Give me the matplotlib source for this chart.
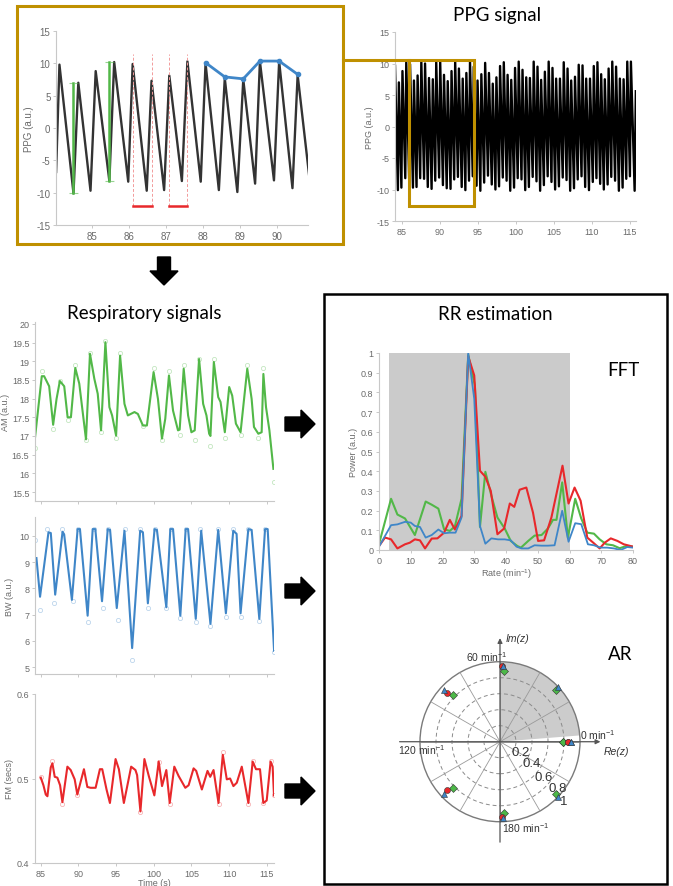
import numpy as np
import matplotlib
matplotlib.use('Agg')
import matplotlib.pyplot as plt
from matplotlib import ticker
from matplotlib.patches import Rectangle, Wedge, Circle, FancyArrow

plt.rcParams['font.family'] = ['Liberation Sans', 'DejaVu Sans']
plt.rcParams['axes.unicode_minus'] = False
plt.rcParams['mathtext.default'] = 'regular'

W, H = 673, 887
GOLD = '#BF9000'
GREEN = '#52b848'
BLUE = '#3f86c8'
RED = '#e8282b'

# ---- PPG signal (alternating trough / peak) ----
ppg_time = [84.03, 84.12, 84.50, 84.63, 84.96, 85.10, 85.47, 85.60, 85.98, 86.10,
            86.48, 86.61, 86.95, 87.09, 87.43, 87.58, 87.94, 88.07, 88.43, 88.59,
            88.93, 89.09, 89.41, 89.54, 89.92, 90.06, 90.42, 90.56,
            90.92, 91.05, 91.42, 91.55, 91.90, 92.03, 92.39, 92.52, 92.89, 93.02,
            93.37, 93.50, 93.85, 93.98, 94.34, 94.47, 94.84, 94.97, 95.34, 95.47,
            95.84, 95.97, 96.34, 96.47, 96.84, 96.97, 97.32, 97.45, 97.80, 97.93,
            98.29, 98.42, 98.79, 98.92, 99.27, 99.40, 99.77, 99.90, 100.25, 100.38,
            100.75, 100.88, 101.24, 101.37, 101.72, 101.85, 102.22, 102.35, 102.72, 102.85,
            103.20, 103.33, 103.69, 103.82, 104.19, 104.32, 104.69, 104.82, 105.17, 105.30,
            105.67, 105.80, 106.17, 106.30, 106.67, 106.80, 107.15, 107.28, 107.65, 107.78,
            108.14, 108.27, 108.64, 108.77, 109.12, 109.25, 109.62, 109.75, 110.12, 110.25,
            110.60, 110.73, 111.09, 111.22, 111.57, 111.70, 112.07, 112.20, 112.55, 112.68,
            113.05, 113.18, 113.55, 113.68, 114.04, 114.17, 114.52, 114.65, 115.00, 115.13,
            115.62, 115.78]
ppg_value = [-6.8, 9.8, -10.1, 7.0, -9.7, 8.8, -8.2, 10.2, -8.3, 9.9,
             -9.7, 7.3, -9.6, 8.1, -8.2, 10.3, -8.3, 10.0, -9.6, 7.7,
             -9.9, 7.5, -8.6, 10.3, -8.1, 10.3, -9.3, 8.2,
             -9.8, 7.2, -9.9, 8.8, -8.4, 10.3, -8.0, 9.2, -9.6, 7.6,
             -10.1, 8.5, -8.6, 10.3, -7.9, 9.5, -9.4, 7.3, -10.2, 8.3,
             -8.9, 10.1, -7.8, 8.5, -9.2, 6.8, -10.0, 7.8, -9.5, 9.6,
             -8.1, 10.2, -8.6, 8.2, -10.2, 7.4, -9.7, 9.3, -8.2, 10.3,
             -8.4, 9.0, -10.1, 7.8, -9.6, 7.7, -8.0, 10.3, -8.7, 9.5,
             -10.2, 7.4, -9.3, 8.7, -7.9, 10.3, -8.8, 9.3, -10.0, 7.6,
             -9.5, 7.6, -8.1, 10.2, -8.5, 9.2, -10.2, 7.3, -9.8, 7.9,
             -8.4, 9.8, -7.9, 9.7, -9.6, 7.6, -10.1, 7.6, -8.8, 9.6,
             -8.2, 10.2, -9.1, 8.3, -10.0, 7.5, -9.2, 9.2, -8.0, 10.3,
             -8.6, 9.5, -10.2, 7.6, -9.7, 7.5, -8.3, 10.3, -7.9, 10.3,
             -10.2, 5.6]

# annotations in the zoomed PPG panel
am_bar_t = [84.50, 85.47]
am_bar_lo = [-10.1, -8.2]
am_bar_hi = [7.0, 10.2]
fm_start = [86.10, 87.09]
fm_end = [86.61, 87.58]
bw_peak_t = [88.07, 88.59, 89.09, 89.54, 90.06, 90.56]
bw_peak_v = [10.1, 7.9, 7.6, 10.35, 10.35, 8.3]

# ---- respiratory signals ----
am_t = [84.24, 85.13, 85.44, 86.11, 86.64, 87.09, 87.53, 88.11, 88.56, 89.0,
        89.58, 90.11, 91.0, 91.53, 92.11, 92.56, 93.0, 93.58, 94.11, 94.47,
        95.0, 95.53, 96.11, 96.56, 97.44, 97.89, 98.56, 99.09, 99.98, 100.56,
        101.09, 101.53, 102.02, 102.56, 103.22, 103.44, 103.98, 104.56, 105.0, 105.44,
        106.02, 106.56, 107.0, 107.36, 107.53, 107.98, 108.56, 108.87, 109.44, 110.02,
        110.42, 110.91, 111.53, 112.42, 113.0, 113.31, 113.89, 114.33, 114.56, 114.91,
        115.36, 115.89]
am_v = [16.97, 18.6, 18.6, 18.33, 17.3, 17.99, 18.47, 18.33, 17.5, 17.5,
        18.82, 18.4, 16.91, 19.2, 18.53, 18.13, 17.15, 19.51, 17.77, 17.55,
        17.01, 19.15, 17.86, 17.55, 17.64, 17.59, 17.28, 17.28, 18.71, 17.99,
        16.93, 17.46, 18.62, 17.68, 17.15, 17.17, 18.8, 17.55, 17.1, 17.15,
        19.06, 17.86, 17.55, 17.06, 17.0, 18.98, 18.04, 17.91, 17.1, 18.31,
        18.08, 17.33, 17.1, 18.8, 17.99, 17.24, 17.06, 17.1, 18.66, 17.77,
        17.15, 16.12]
am_raw_t = [84.24, 85.13, 86.64, 87.53, 88.56, 89.58, 91.0, 91.53, 93.0, 93.58,
            95.0, 95.53, 98.56, 99.98, 101.09, 102.02, 103.44, 103.98, 105.44, 106.02,
            107.53, 107.98, 109.44, 111.53, 112.42, 113.89, 114.56, 115.98]
am_raw_v = [16.68, 18.75, 17.19, 18.48, 17.42, 18.9, 16.88, 19.22, 17.1, 19.53,
            16.94, 19.22, 17.28, 18.82, 16.88, 18.73, 17.03, 18.9, 16.88, 19.05,
            16.73, 19.05, 16.94, 17.03, 18.9, 16.94, 18.81, 15.77]

bw_t = [84.42, 84.9, 86.02, 86.33, 86.91, 87.89, 88.1, 89.13, 89.89, 90.2,
        91.22, 91.89, 92.24, 93.13, 93.89, 94.2, 95.09, 96.11, 97.13, 98.2,
        98.56, 99.22, 100.11, 100.42, 101.67, 102.2, 102.56, 103.53, 104.24, 104.56,
        105.58, 106.3, 107.53, 108.56, 109.58, 110.56, 111.0, 111.53, 112.56, 113.0,
        114.02, 114.78, 115.13, 115.98]
bw_v = [9.15, 7.68, 10.13, 10.1, 7.76, 10.15, 10.05, 7.56, 10.25, 10.25,
        6.96, 10.25, 10.25, 7.51, 10.25, 10.22, 7.25, 10.19, 5.73, 10.19,
        10.13, 7.43, 10.25, 10.22, 7.28, 10.25, 10.25, 6.96, 10.25, 10.25,
        6.84, 10.19, 6.65, 10.22, 7.05, 10.19, 10.07, 7.05, 10.25, 10.22,
        6.84, 10.25, 10.25, 5.63]
bw_raw_t = [84.24, 84.87, 85.89, 86.78, 87.8, 89.22, 89.9, 91.22, 92.1, 93.22,
            93.9, 95.22, 96.24, 97.13, 98.2, 99.22, 100.1, 101.67, 102.3, 103.53,
            104.3, 105.58, 106.1, 107.53, 108.5, 109.58, 110.5, 111.53, 112.5, 114.02,
            114.8, 115.98]
bw_raw_v = [9.85, 7.18, 10.25, 7.43, 10.25, 7.5, 10.25, 6.71, 10.25, 7.25,
            10.25, 6.8, 10.25, 5.28, 10.25, 7.25, 10.25, 7.25, 10.25, 6.87,
            10.25, 6.71, 10.25, 6.56, 10.25, 6.92, 10.25, 6.92, 10.25, 6.77,
            10.25, 5.57]

fm_t = [85.0, 85.35, 85.66, 85.88, 86.32, 86.54, 86.85, 87.2, 87.56, 87.87,
        88.53, 88.97, 89.5, 89.85, 90.73, 91.18, 91.62, 92.28, 92.85, 93.16,
        93.73, 94.18, 94.93, 95.37, 96.03, 97.0, 97.57, 97.79, 98.23, 98.76,
        99.34, 100.08, 100.66, 101.1, 101.67, 102.12, 102.73, 103.3, 104.19, 104.63,
        105.29, 105.64, 106.39, 107.14, 107.5, 107.94, 108.6, 109.17, 109.7, 110.14,
        110.58, 111.03, 111.69, 112.57, 113.14, 113.58, 114.11, 114.55, 115.0, 115.52,
        115.79, 115.97]
fm_v = [0.501, 0.492, 0.481, 0.479, 0.513, 0.518, 0.502, 0.501, 0.492, 0.472,
        0.514, 0.51, 0.499, 0.481, 0.511, 0.49, 0.489, 0.489, 0.511, 0.511,
        0.487, 0.471, 0.523, 0.511, 0.471, 0.514, 0.51, 0.504, 0.461, 0.523,
        0.503, 0.48, 0.52, 0.491, 0.51, 0.471, 0.514, 0.503, 0.489, 0.492,
        0.512, 0.509, 0.487, 0.509, 0.502, 0.51, 0.471, 0.528, 0.499, 0.5,
        0.491, 0.495, 0.514, 0.471, 0.52, 0.511, 0.511, 0.471, 0.474, 0.52,
        0.514, 0.48]
fm_raw_t = [85.0, 86.54, 87.87, 89.85, 98.23, 100.66, 102.12, 108.6, 109.17,
            112.57, 113.14, 114.55, 115.52, 115.97]
fm_raw_v = [0.502, 0.521, 0.47, 0.48, 0.46, 0.52, 0.47, 0.47, 0.531,
            0.47, 0.521, 0.471, 0.521, 0.48]

# ---- FFT spectra ----
fft_green_rate = [0, 3.8, 5.8, 8.2, 11.3, 14.7, 16.6, 18.7, 20.5, 22.3, 23.9, 26.0,
                  28.1, 30.2, 31.8, 33.5, 35.4, 37.3, 39.6, 41.5, 43.6, 44.7, 47.0,
                  49.0, 51.2, 53.2, 54.8, 55.9, 57.7, 59.5, 61.8, 63.7, 65.6, 67.7,
                  69.5, 71.6, 73.7, 75.8, 77.9, 80.0]
fft_green_power = [0.03, 0.26, 0.18, 0.16, 0.076, 0.246, 0.23, 0.21, 0.105, 0.097, 0.12, 0.26,
                   0.99, 0.835, 0.117, 0.397, 0.275, 0.165, 0.109, 0.046, 0.02, 0.012, 0.046,
                   0.073, 0.076, 0.109, 0.153, 0.153, 0.343, 0.063, 0.26, 0.16, 0.088, 0.083,
                   0.054, 0.029, 0.024, 0.009, 0.02, 0.017]
fft_blue_rate = [0, 3.8, 5.8, 8.2, 10.0, 11.3, 12.9, 14.7, 16.6, 18.7, 20.5, 22.3, 24.1,
                 26.0, 28.1, 30.0, 31.8, 33.5, 35.4, 37.5, 39.6, 41.5, 43.3, 44.9, 47.0,
                 49.0, 51.2, 53.2, 55.3, 57.7, 59.7, 61.8, 63.7, 65.8, 67.7, 69.8, 71.9,
                 74.0, 76.1, 78.2, 80.0]
fft_blue_power = [0.017, 0.126, 0.13, 0.143, 0.139, 0.122, 0.117, 0.063, 0.076, 0.104, 0.085,
                  0.088, 0.088, 0.165, 1.0, 0.767, 0.122, 0.032, 0.059, 0.054, 0.054, 0.049,
                  0.017, 0.008, 0.008, 0.024, 0.022, 0.022, 0.024, 0.199, 0.042, 0.136, 0.131,
                  0.029, 0.024, 0.012, 0.012, 0.008, 0.0, 0.015, 0.012]
fft_red_rate = [0, 1.9, 3.8, 5.8, 8.2, 9.7, 11.3, 12.9, 14.5, 16.6, 18.4, 20.5, 22.3,
                23.9, 26.0, 28.1, 30.0, 31.8, 33.5, 35.2, 37.3, 39.4, 41.2, 42.6, 44.3,
                46.4, 48.5, 50.1, 52.0, 54.3, 57.8, 59.7, 61.6, 63.5, 65.6, 67.7, 69.5,
                71.1, 73.0, 75.1, 77.1, 80.0]
fft_red_power = [0.02, 0.063, 0.054, 0.008, 0.029, 0.037, 0.054, 0.049, 0.008, 0.058, 0.059,
                 0.088, 0.153, 0.104, 0.173, 0.983, 0.886, 0.402, 0.372, 0.3, 0.08, 0.109,
                 0.236, 0.219, 0.306, 0.317, 0.19, 0.046, 0.049, 0.165, 0.428, 0.236, 0.317,
                 0.25, 0.063, 0.034, 0.008, 0.037, 0.059, 0.046, 0.029, 0.017]
rr_band = [3, 60]

# ---- AR poles (upper half plane; conjugates mirrored) ----
pole_red_angle = [0, 88.2, 137.3]
pole_red_radius = [0.846, 0.942, 0.896]
pole_blue_angle = [0, 43.6, 87.5, 136.9]
pole_blue_radius = [0.883, 0.996, 0.95, 0.952]
pole_green_angle = [0, 42.9, 86.5, 135.0]
pole_green_radius = [0.79, 0.955, 0.89, 0.825]
ar_rings = [0.2, 0.4, 0.6, 0.8]
ar_spokes = [0, 30, 60, 90, 120, 150, 180, 210, 240, 270, 300, 330]


def box(x0, y0, x1, y1):
    return [x0 / W, 1 - y1 / H, (x1 - x0) / W, (y1 - y0) / H]


def light_style(ax, size=6.5):
    for s in ['top', 'right']:
        ax.spines[s].set_visible(False)
    for s in ['left', 'bottom']:
        ax.spines[s].set_color('#c8c8c8')
        ax.spines[s].set_linewidth(0.8)
    ax.tick_params(color='#c8c8c8', labelcolor='#6a6a6a', labelsize=size,
                   length=2.5, width=0.7, pad=1.5)
    ax.patch.set_alpha(0)


fig = plt.figure(figsize=(W / 100, H / 100), dpi=100)

# zoomed PPG
ax1 = fig.add_axes(box(56, 32, 308, 226))
ax1.plot(ppg_time, ppg_value, color='#333333', lw=1.7, solid_joinstyle='round')
for t, lo, hi in zip(am_bar_t, am_bar_lo, am_bar_hi):
    ax1.plot([t, t], [lo, hi], color=GREEN, lw=1.8)
    ax1.plot([t - 0.13, t + 0.15], [lo, lo], color=GREEN, lw=0.8, ls=(0, (3, 2)), alpha=0.6)
    ax1.plot([t - 0.13, t + 0.15], [hi, hi], color=GREEN, lw=0.8, ls=(0, (3, 2)), alpha=0.6)
for a, b in zip(fm_start, fm_end):
    for t in (a, b):
        ax1.plot([t, t], [-12.1, 11.5], color='#f29a9a', lw=0.7, ls=(0, (3, 2)))
    ax1.plot([a, b], [-12.1, -12.1], color=RED, lw=1.8)
ax1.plot(bw_peak_t, bw_peak_v, color=BLUE, lw=2, marker='o', ms=3)
ax1.set_xlim(84.027, 90.84)
ax1.set_ylim(-15, 15)
ax1.set_xticks([85, 86, 87, 88, 89, 90])
ax1.set_yticks([-15, -10, -5, 0, 5, 10, 15])
ax1.set_ylabel('PPG (a.u.)', fontsize=7, color='#6a6a6a', labelpad=2)
light_style(ax1, 7)

# full PPG
ax2 = fig.add_axes(box(395, 33, 636, 222))
ax2.plot(ppg_time, ppg_value, color='black', lw=1.7)
ax2.set_xlim(84.12, 115.8)
ax2.set_ylim(-15, 15)
ax2.set_xticks([85, 90, 95, 100, 105, 110, 115])
ax2.set_yticks([-15, -10, -5, 0, 5, 10, 15])
ax2.set_ylabel('PPG (a.u.)', fontsize=6.5, color='#6a6a6a', labelpad=2)
light_style(ax2)
ax2.add_patch(Rectangle((86.0, -12.6), 8.5, 23.2, fill=False, ec=GOLD, lw=2.2,
                        clip_on=False, zorder=5))

# respiratory signals
t_lim = (84.23, 115.97)
t_ticks = [85, 90, 95, 100, 105, 110, 115]

ax3 = fig.add_axes(box(35, 323, 274, 502))
ax3.plot(am_raw_t, am_raw_v, ls='none', marker='o', ms=3, mfc='none', mec=GREEN, mew=0.6, alpha=0.35)
ax3.plot(am_t, am_v, color=GREEN, lw=1.5)
ax3.set_xlim(*t_lim)
ax3.set_ylim(15.26, 20.05)
ax3.set_yticks([15.5, 16, 16.5, 17, 17.5, 18, 18.5, 19, 19.5, 20])
ax3.yaxis.set_major_formatter(ticker.FormatStrFormatter('%g'))
ax3.set_xticks(t_ticks)
ax3.set_xticklabels([])
ax3.set_ylabel('AM (a.u.)', fontsize=6.5, color='#6a6a6a', labelpad=1)
light_style(ax3)

ax4 = fig.add_axes(box(35, 518, 274, 675))
ax4.plot(bw_raw_t, bw_raw_v, ls='none', marker='o', ms=3, mfc='none', mec=BLUE, mew=0.6, alpha=0.35)
ax4.plot(bw_t, bw_v, color=BLUE, lw=1.5)
ax4.set_xlim(*t_lim)
ax4.set_ylim(4.745, 10.71)
ax4.set_yticks([5, 6, 7, 8, 9, 10])
ax4.set_xticks(t_ticks)
ax4.set_xticklabels([])
ax4.set_ylabel('BW (a.u.)', fontsize=6.5, color='#6a6a6a', labelpad=4)
light_style(ax4)

ax5 = fig.add_axes(box(35, 695, 274, 864))
ax5.plot(fm_raw_t, fm_raw_v, ls='none', marker='o', ms=3, mfc='none', mec=RED, mew=0.6, alpha=0.35)
ax5.plot(fm_t, fm_v, color=RED, lw=1.5)
ax5.set_xlim(*t_lim)
ax5.set_ylim(0.4, 0.6)
ax5.set_yticks([0.4, 0.5, 0.6])
ax5.set_xticks(t_ticks)
ax5.set_xlabel('Time (s)', fontsize=6.5, color='#6a6a6a', labelpad=0)
ax5.set_ylabel('FM (secs)', fontsize=6.5, color='#6a6a6a', labelpad=2)
light_style(ax5)

# FFT
ax6 = fig.add_axes(box(379, 354, 633, 551))
ax6.axvspan(rr_band[0], rr_band[1], ymax=1, color='#cbcbcb', lw=0, zorder=0)
ax6.plot(fft_green_rate, fft_green_power, color=GREEN, lw=1.5)
ax6.plot(fft_red_rate, fft_red_power, color=RED, lw=1.5)
ax6.plot(fft_blue_rate, fft_blue_power, color=BLUE, lw=1.3)
ax6.set_xlim(0, 80)
ax6.set_ylim(0, 1)
ax6.set_xticks(range(0, 81, 10))
ax6.set_yticks(np.arange(0, 1.01, 0.1))
ax6.yaxis.set_major_formatter(ticker.FormatStrFormatter('%g'))
ax6.set_xlabel('Rate (min$^{-1}$)', fontsize=6.5, color='#6a6a6a', labelpad=1)
ax6.set_ylabel('Power (a.u.)', fontsize=6.5, color='#6a6a6a', labelpad=2)
light_style(ax6)

# AR pole plot
ax7 = fig.add_axes(box(396, 630, 606, 850))
ax7.set_xlim(-1.3, 1.325)
ax7.set_ylim(-1.341, 1.409)
ax7.axis('off')
ax7.add_patch(Wedge((0, 0), 1, rr_band[0] * 1.5, rr_band[1] * 1.5, color='#cccccc', lw=0))
for r in ar_rings:
    ax7.add_patch(Circle((0, 0), r, fill=False, ec='#8a8a8a', lw=0.7, ls=(0, (4, 3))))
for a in ar_spokes:
    th = np.deg2rad(a)
    ax7.plot([0, np.cos(th)], [0, np.sin(th)], color='#9a9a9a', lw=0.6)
ax7.add_patch(Circle((0, 0), 1, fill=False, ec='#7a7a7a', lw=1.0))
ax7.annotate('', xy=(1.29, 0), xytext=(-1.29, 0),
             arrowprops=dict(arrowstyle='-|>', color='#555555', lw=0.9, mutation_scale=7))
ax7.annotate('', xy=(0, 1.33), xytext=(0, -1.29),
             arrowprops=dict(arrowstyle='-|>', color='#555555', lw=0.9, mutation_scale=7))
for ang, rad, mk, col, ms in [(pole_green_angle, pole_green_radius, 'D', '#4cb848', 3.6),
                              (pole_red_angle, pole_red_radius, 'o', RED, 4.3),
                              (pole_blue_angle, pole_blue_radius, '^', BLUE, 4.6)]:
    th = np.deg2rad(ang)
    r = np.array(rad)
    for sgn in (1, -1):
        ax7.plot(r * np.cos(th), sgn * r * np.sin(th), ls='none', marker=mk, ms=ms,
                 mfc=col, mec='#333333', mew=0.4, zorder=5)
ax7.text(-0.17, 1.075, '60 min$^{-1}$', fontsize=7.5, ha='center', va='center', color='#333333')
ax7.text(1.0, 0.09, '0 min$^{-1}$', fontsize=7.5, ha='left', va='center', color='#333333')
ax7.text(-1.28, -0.09, '120 min$^{-1}$', fontsize=7.5, ha='left', va='center', color='#333333')
ax7.text(0.02, -1.07, '180 min$^{-1}$', fontsize=7.5, ha='left', va='center', color='#333333')
ax7.text(0.07, 1.3, 'Im(z)', fontsize=7.5, style='italic', ha='left', va='center', color='#333333')
ax7.text(1.3, -0.11, 'Re(z)', fontsize=7.5, style='italic', ha='left', va='center', color='#333333')
for (x, y), lab in zip([(0.26, -0.133), (0.396, -0.27), (0.54, -0.445), (0.72, -0.583), (0.80, -0.74)],
                       ['0.2', '0.4', '0.6', '0.8', '1']):
    ax7.text(x, y, lab, fontsize=9.5, ha='center', va='center', color='#333333')

# overlay: boxes, connectors, arrows, titles
ov = fig.add_axes([0, 0, 1, 1], zorder=10)
ov.set_xlim(0, W)
ov.set_ylim(H, 0)
ov.axis('off')
ov.patch.set_alpha(0)
ov.add_patch(Rectangle((17, 7), 326, 238, fill=False, ec=GOLD, lw=2.2))
ov.plot([343, 409], [61, 61], color=GOLD, lw=2.2)
ov.add_patch(Rectangle((324, 295), 343, 590, fill=False, ec='black', lw=1.8))
ov.add_patch(FancyArrow(164, 258, 0, 28, width=13, head_width=28, head_length=14,
                        length_includes_head=True, color='black'))
for y in [425, 592, 792]:
    ov.add_patch(FancyArrow(285, y, 30, 0, width=14, head_width=28, head_length=14,
                            length_includes_head=True, color='black'))

title_font = ['Lato', 'DejaVu Sans']
ov.text(497, 16, 'PPG signal', fontsize=13.5, family=title_font, ha='center', va='center')
ov.text(144, 314, 'Respiratory signals', fontsize=13.5, family=title_font, ha='center', va='center')
ov.text(495, 315, 'RR estimation', fontsize=13.5, family=title_font, ha='center', va='center')
ov.text(623, 371, 'FFT', fontsize=13.5, family=title_font, ha='center', va='center')
ov.text(620, 655, 'AR', fontsize=13.5, family=title_font, ha='center', va='center')

fig.savefig('out.png', dpi=100)
